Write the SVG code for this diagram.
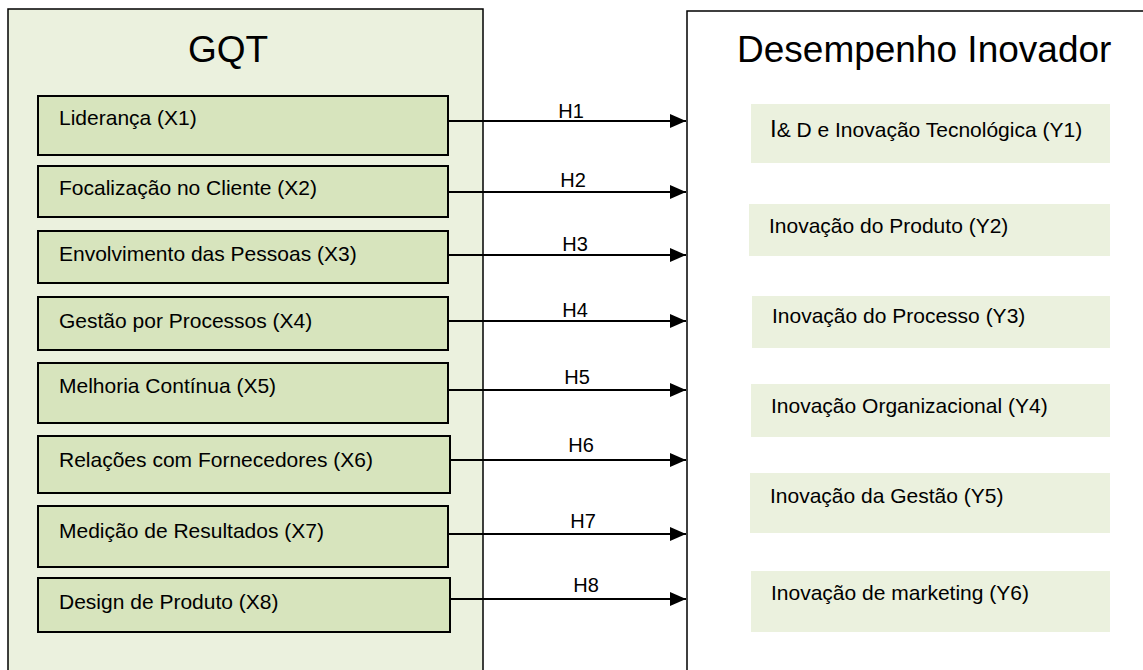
<svg xmlns="http://www.w3.org/2000/svg" width="1143" height="670" viewBox="0 0 1143 670">
  <style>
    text { font-family: "Liberation Sans", Arial, sans-serif; fill: #000; }
    .title { font-size: 37px; }
    .lbl { font-size: 21px; }
    .hl { font-size: 20px; text-anchor: middle; }
    .panel-l { fill: #EBF1DE; stroke: #000; stroke-width: 1.5; }
    .panel-r { fill: #FFFFFF; stroke: #000; stroke-width: 1.5; }
    .x { fill: #D7E4BD; stroke: #000; stroke-width: 2; }
    .y { fill: #EBF1DE; stroke: none; }
    .conn { stroke: #000; stroke-width: 2; fill: none; marker-end: url(#arrow); }
  </style>
  <defs>
    <marker id="arrow" markerUnits="userSpaceOnUse" markerWidth="16" markerHeight="14" refX="16" refY="7" orient="auto">
      <path d="M0,0 L16,7 L0,14 Z" fill="#000"/>
    </marker>
  </defs>

  <rect width="1143" height="670" fill="#FFFFFF"/>

  <!-- GQT panel -->
  <g id="gqt">
    <rect class="panel-l" x="8" y="9" width="475" height="680"/>
    <text class="title" x="188" y="62">GQT</text>
  </g>

  <!-- Innovation performance panel -->
  <g id="desempenho">
    <rect class="panel-r" x="687" y="11" width="470" height="680"/>
    <text class="title" x="737" y="62">Desempenho Inovador</text>
  </g>

  <!-- GQT factors -->
  <g id="x1"><rect class="x" x="38" y="96" width="410" height="59"/><text class="lbl" x="59" y="125">Liderança (X1)</text></g>
  <g id="x2"><rect class="x" x="38" y="166" width="410" height="51"/><text class="lbl" x="59" y="195">Focalização no Cliente (X2)</text></g>
  <g id="x3"><rect class="x" x="38" y="231" width="410" height="52"/><text class="lbl" x="59" y="261">Envolvimento das Pessoas (X3)</text></g>
  <g id="x4"><rect class="x" x="38" y="297" width="410" height="53"/><text class="lbl" x="59" y="328">Gestão por Processos (X4)</text></g>
  <g id="x5"><rect class="x" x="38" y="363" width="410" height="60"/><text class="lbl" x="59" y="393">Melhoria Contínua (X5)</text></g>
  <g id="x6"><rect class="x" x="38" y="436" width="412" height="57"/><text class="lbl" x="59" y="467">Relações com Fornecedores (X6)</text></g>
  <g id="x7"><rect class="x" x="38" y="506" width="410" height="61"/><text class="lbl" x="59" y="538">Medição de Resultados (X7)</text></g>
  <g id="x8"><rect class="x" x="38" y="578" width="412" height="54"/><text class="lbl" x="59" y="609">Design de Produto (X8)</text></g>

  <!-- Innovation dimensions -->
  <g id="y1"><rect class="y" x="751" y="104" width="359" height="59"/><text class="lbl" x="770" y="137"><tspan font-size="24">I</tspan>&amp; D e Inovação Tecnológica (Y1)</text></g>
  <g id="y2"><rect class="y" x="749" y="204" width="361" height="52"/><text class="lbl" x="769" y="233">Inovação do Produto (Y2)</text></g>
  <g id="y3"><rect class="y" x="752" y="296" width="358" height="52"/><text class="lbl" x="772" y="323">Inovação do Processo (Y3)</text></g>
  <g id="y4"><rect class="y" x="751" y="384" width="359" height="53"/><text class="lbl" x="771" y="413">Inovação Organizacional (Y4)</text></g>
  <g id="y5"><rect class="y" x="750" y="473" width="360" height="60"/><text class="lbl" x="770" y="503">Inovação da Gestão (Y5)</text></g>
  <g id="y6"><rect class="y" x="751" y="571" width="359" height="61"/><text class="lbl" x="771" y="600">Inovação de marketing (Y6)</text></g>

  <!-- Hypotheses H1–H8 -->
  <g id="connectors">
    <line class="conn" x1="448" y1="121" x2="686" y2="121"/>
    <line class="conn" x1="448" y1="192" x2="686" y2="192"/>
    <line class="conn" x1="448" y1="255" x2="686" y2="255"/>
    <line class="conn" x1="448" y1="321" x2="686" y2="321"/>
    <line class="conn" x1="448" y1="390" x2="686" y2="390"/>
    <line class="conn" x1="450" y1="460" x2="686" y2="460"/>
    <line class="conn" x1="448" y1="534" x2="686" y2="534"/>
    <line class="conn" x1="450" y1="599" x2="686" y2="599"/>
    <text class="hl" x="571" y="118">H1</text>
    <text class="hl" x="573" y="187">H2</text>
    <text class="hl" x="575" y="251">H3</text>
    <text class="hl" x="575" y="317">H4</text>
    <text class="hl" x="577" y="384">H5</text>
    <text class="hl" x="581" y="452">H6</text>
    <text class="hl" x="583" y="528">H7</text>
    <text class="hl" x="586" y="592">H8</text>
  </g>
</svg>
